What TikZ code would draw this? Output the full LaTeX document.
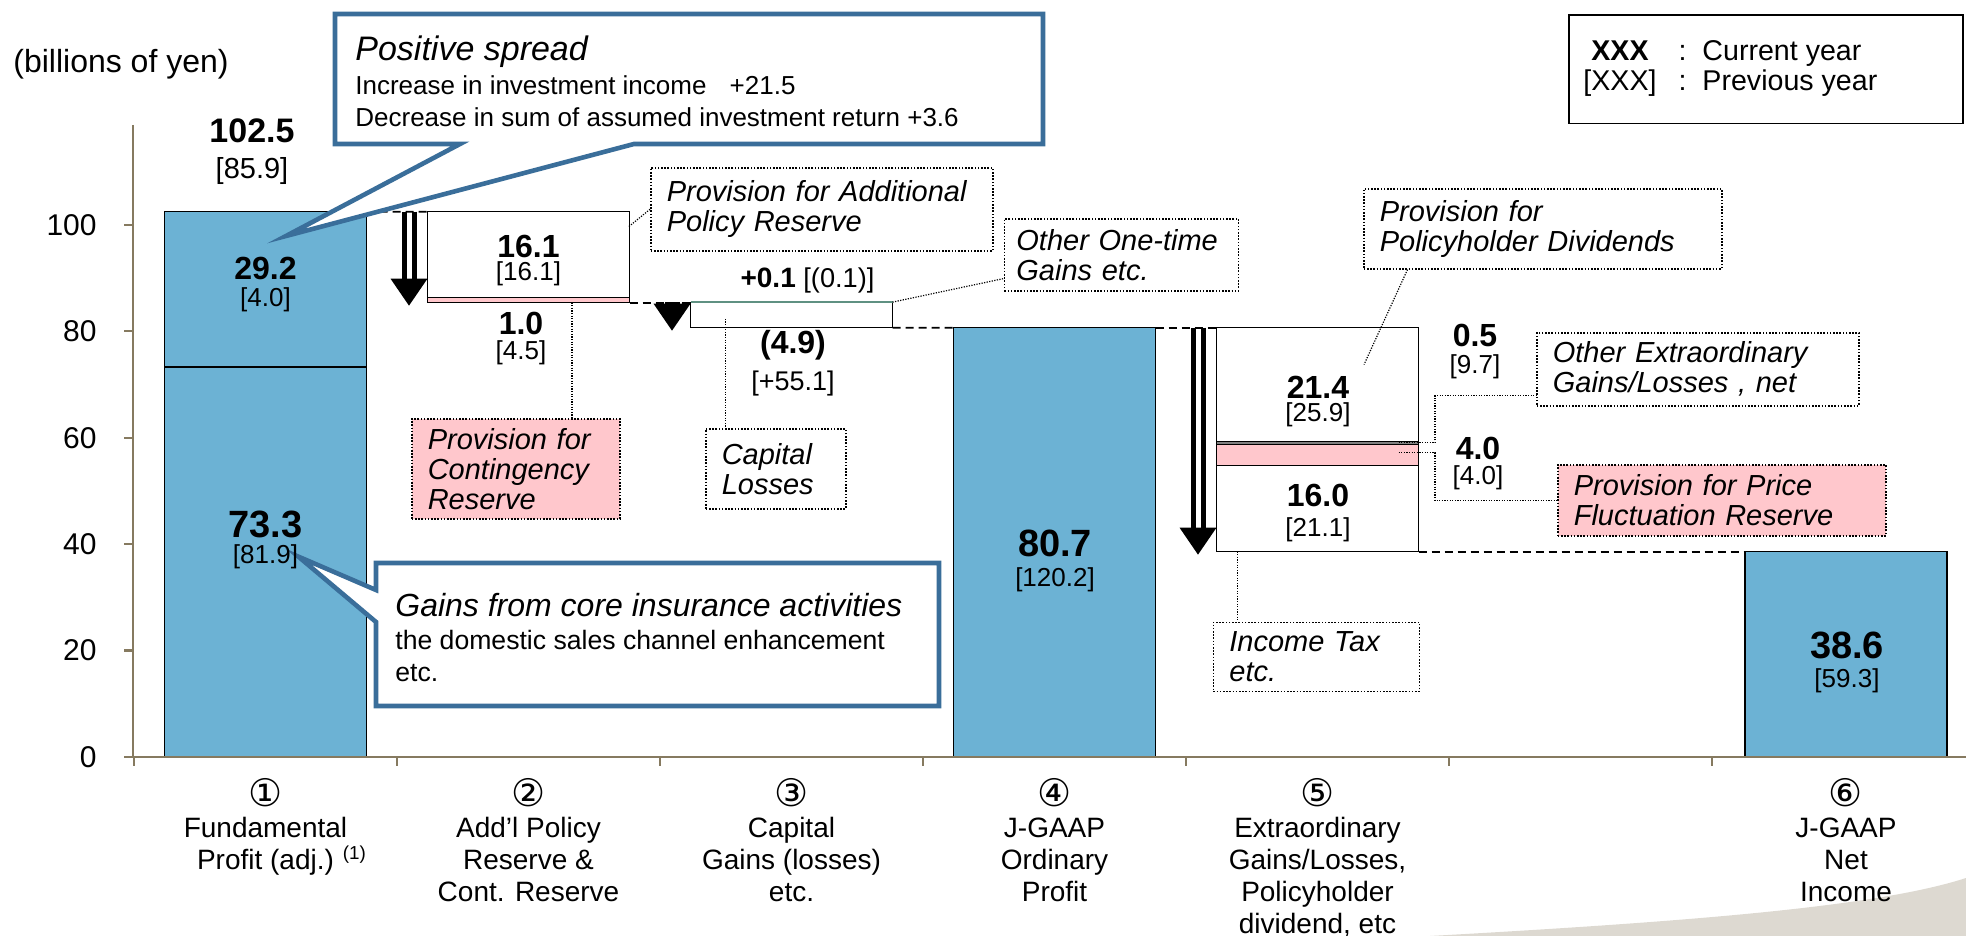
\documentclass[tikz,border=0pt]{standalone}
\usepackage{fontspec}
\setmainfont{Liberation Sans}
\newfontfamily\circfont{DejaVu Sans}
\usetikzlibrary{positioning}
\definecolor{barblue}{RGB}{108,178,212}
\definecolor{callblue}{RGB}{58,110,154}
\definecolor{notepink}{RGB}{255,199,204}
\definecolor{axisbrown}{RGB}{134,122,96}
\definecolor{swoosh}{RGB}{221,217,209}
\definecolor{gaingreen}{RGB}{95,145,130}
\tikzset{
	bar/.style = {
		draw = black,
		line width = 0.6pt,
		fill = barblue,
		minimum width = 101pt,
		inner sep = 0pt,
		outer sep = 0pt,
		anchor = south
	},
	seg/.style = {bar, fill = white},
	note/.style = {
		draw = black,
		line width = 0.8pt,
		dash pattern = on 0.8pt off 0.8pt,
		fill = white,
		anchor = north west,
		align = left,
		inner xsep = 8pt,
		font = \fontsize{14.5}{15}\selectfont\itshape
	},
	leader/.style = {line width = 0.6pt, dash pattern = on 0.6pt off 0.7pt},
	link/.style = {line width = 0.9pt, dash pattern = on 4pt off 2.5pt},
	callout/.style = {draw = callblue, line width = 2.3pt, fill = white},
	axisline/.style = {draw = axisbrown, line width = 1.1pt},
	val/.style = {font = \fontsize{16}{16}\selectfont\bfseries, inner sep = 0pt},
	bigval/.style = {font = \fontsize{19}{19}\selectfont\bfseries, inner sep = 0pt},
	prev/.style = {font = \fontsize{13}{13}\selectfont, inner sep = 0pt},
	catlabel/.style = {anchor = north, align = center, inner sep = 0pt, font = \fontsize{14}{16}\selectfont}
}
\newcommand\dropArrow[2]{%
	\draw[line width=2.5pt] ([xshift=-11.75pt]#1) -- ([xshift=-11.75pt,yshift=12pt]#2)
		([xshift=-6.75pt]#1) -- ([xshift=-6.75pt,yshift=12pt]#2);
	\fill ([xshift=-18.5pt,yshift=12pt]#2) -- ([yshift=12pt]#2) -- ([xshift=-9.25pt,yshift=-1.5pt]#2) -- cycle;
}
\newcommand\circnum[1]{{\circfont\fontsize{19}{19}\selectfont #1}}

\begin{document}
\begin{tikzpicture}[x=0.5pt, y=0.5pt]
    \useasboundingbox (0,0) rectangle (1966,936);
    \fill[swoosh] (1430,0) .. controls (1700,15) and (1880,30) .. (1966,58) -- (1966,0) -- cycle;

    % bars, heights in billions of yen
    \begin{scope}[shift={(0,179)}, y=2.66pt]
        \node[bar, minimum height={73.3*2.66pt}] (fpbot) at (265.5,0) {};
        \node[bar, minimum height={29.2*2.66pt}] (fptop) at (265.5,73.3) {};
        \node[seg, minimum height={16.1*2.66pt}] (addlbar) at (528.5,86.4) {};
        \node[seg, fill=notepink, minimum height={1.0*2.66pt}] (contbar) at (528.5,85.4) {};
        \node[seg, minimum height={4.8*2.66pt}] (lossbar) at (791.5,80.7) {};
        \node[bar, minimum height={80.7*2.66pt}] (ordbar) at (1054.5,0) {};
        \node[seg, minimum height={21.4*2.66pt}] (divbar) at (1317.5,59.3) {};
        \node[seg, fill=gray, minimum height={0.5*2.66pt}] (othbar) at (1317.5,58.8) {};
        \node[seg, fill=notepink, minimum height={4.0*2.66pt}] (pfrbar) at (1317.5,54.8) {};
        \node[seg, minimum height={16.2*2.66pt}] (taxbar) at (1317.5,38.6) {};
        \node[bar, minimum height={38.6*2.66pt}] (netbar) at (1846,0) {};
    \end{scope}
    \draw[gaingreen, line width=1.2pt] (lossbar.north west) -- (lossbar.north east);

    \draw[axisline] (133,811) -- (133,179) -- (1966,179);
    \foreach \v in {0,20,...,100} {
        \draw[axisline] (124,179+5.32*\v) -- (133,179+5.32*\v);
        \node[anchor=east, inner sep=0pt, font=\fontsize{15}{15}\selectfont] (tick\v) at (97,179+5.32*\v) {\v};
    }
    \foreach \k in {0,...,6}
        \draw[axisline] (134+263*\k,179) -- (134+263*\k,170);

    \draw[link] (fptop.north east) -- (addlbar.north west);
    \draw[link] (contbar.south east) -- (contbar.south east -| lossbar.west);
    \draw[link] (lossbar.south east) -- (ordbar.north west);
    \draw[link] (ordbar.north east) -- (divbar.north west);
    \draw[link] (taxbar.south east) -- (netbar.north west);

    \dropArrow{addlbar.north west}{contbar.south west}
    \dropArrow{lossbar.north west}{lossbar.south west}
    \dropArrow{divbar.north west}{taxbar.south west}

    \node[note, text width=155pt, minimum height=41.5pt] (addl) at (650,769) {Provision for Additional\\Policy Reserve};
    \node[note, fill=notepink, text width=88pt, minimum height=50pt] (cont) at (411,518) {Provision for\\Contingency\\Reserve};
    \node[note, text width=54pt, minimum height=40pt] (caploss) at (705,508) {Capital\\Losses};
    \node[note, inner xsep=6pt, text width=105pt, minimum height=36pt] (onetime) at (1003.6,718) {Other One-time\\Gains etc.};
    \node[note, text width=163pt, minimum height=40pt] (divid) at (1363,748) {Provision for\\Policyholder Dividends};
    \node[note, text width=145pt, minimum height=36.5pt] (otherx) at (1536,604) {Other Extraordinary\\Gains/Losses , net};
    \node[note, fill=notepink, text width=148pt, minimum height=35.5pt] (pricefl) at (1557,472) {Provision for Price\\Fluctuation Reserve};
    \node[note, text width=87pt, minimum height=34.5pt] (inctax) at (1212.6,314.3) {Income Tax\\etc.};

    \coordinate (c2) at ([xshift=21.75pt]contbar.south);
    \coordinate (c3) at ([xshift=-33pt,yshift=-2pt]lossbar.center);
    \coordinate (c5) at ([xshift=-40pt]taxbar.south);
    \draw[leader] (addl.west) -- ++(-22,-18);
    \draw[leader] (c2) -- (c2 |- cont.north);
    \draw[leader] (c3) -- (c3 |- caploss.north);
    \draw[leader] (lossbar.north east) -- ([yshift=6.5pt]onetime.south west);
    \draw[leader] ([xshift=22.25pt]divid.south west) -- ++(-43.5,-95);
    \draw[leader] ([xshift=-10pt]othbar.east) -- ++(36.5,0) |- ([yshift=5.5pt]otherx.south west);
    \draw[leader] ([xshift=-10pt,yshift=1pt]pfrbar.east) -- ++(36.5,0) |- ([yshift=18pt]pricefl.south west);
    \draw[leader] (c5) -- (c5 |- inctax.north);

    \draw[callout] (335,922) -- (1043,922) -- (1043,792) -- (634,792) -- (286,700) -- (460,792) -- (335,792) -- cycle;
    \node[anchor=north west, inner sep=0pt, align=left, font=\fontsize{13}{16.3}\selectfont] (spread) at (355,901)
        {{\fontsize{17}{18}\selectfont\itshape Positive spread}\\[0.8pt]
         Increase in investment income\hspace{8pt} +21.5\\
         Decrease in sum of assumed investment return +3.6};
    \draw[callout] (376,373) -- (939,373) -- (939,230) -- (376,230) -- (376,314) -- (298.5,379.3) -- (376,346) -- cycle;
    \node[anchor=north west, inner sep=0pt, align=left, font=\fontsize{13.3}{16.3}\selectfont] (gains) at (395,343)
        {{\fontsize{16}{17}\selectfont\itshape Gains from core insurance activities}\\[0pt]
         the domestic sales channel enhancement\\
         etc.};

    \node[val, font=\fontsize{17}{17}\selectfont\bfseries] (v1025) at (252,805) {102.5};
    \node[prev, font=\fontsize{14.5}{14.5}\selectfont, below=7pt of v1025] (p859) {[85.9]};
    \node[val] (v292) at (265.5,668) {29.2};
    \node[prev, below=4pt of v292] (p40a) {[4.0]};
    \node[bigval] (v733) at (265.5,412) {73.3};
    \node[prev, below=3pt of v733] (p819) {[81.9]};
    \node[val] (v161) at (528.5,690) {16.1};
    \node[prev, below=2pt of v161] (p161) {[16.1]};
    \node[val] (v10) at (521,613) {1.0};
    \node[prev, below=3pt of v10] (p45) {[4.5]};
    \node[inner sep=0pt, font=\fontsize{13.6}{13.6}\selectfont] (v01) at (807.5,656) {{\fontsize{14}{14}\selectfont\bfseries +0.1} [(0.1)]};
    \node[val] (v49) at (793,591) {(4.9)};
    \node[prev, font=\fontsize{13.5}{13.5}\selectfont, below=5pt of v49] (p551) {[+55.1]};
    \node[bigval] (v807) at (1055,393) {80.7};
    \node[prev, below=5pt of v807] (p1202) {[120.2]};
    \node[val] (v214) at (1318,549) {21.4};
    \node[prev, below=2pt of v214] (p259) {[25.9]};
    \node[val] (v160) at (1318,441) {16.0};
    \node[prev, below=5.5pt of v160] (p211) {[21.1]};
    \node[val] (v05) at (1475,601) {0.5};
    \node[prev, below=4pt of v05] (p97) {[9.7]};
    \node[val] (v40b) at (1478,488) {4.0};
    \node[prev, below=3pt of v40b] (p40b) {[4.0]};
    \node[bigval] (v386) at (1847,291) {38.6};
    \node[prev, below=4.5pt of v386] (p593) {[59.3]};

    \node[anchor=west, inner sep=0pt, font=\fontsize{16}{16}\selectfont] (unit) at (13,872) {(billions of yen)};
    \node[draw, line width=0.85pt, minimum width=197pt, minimum height=54.3pt, anchor=north west, inner sep=0pt] (legend) at (1568,922) {};
    \node[anchor=west, inner sep=0pt, font=\fontsize{14.3}{15}\selectfont] (legendtxt) at (1583,866)
        {\begin{tabular}{@{}c@{\hspace{11pt}}c@{\hspace{8pt}}l@{}}\textbf{XXX} & : & Current year\\ {[XXX]} & : & Previous year\end{tabular}};

    \node[catlabel] (cat1) at (265.5,158) {\circnum{①}\\[-0.5pt]Fundamental\\Profit (adj.)\rlap{\hspace{4.5pt}\raisebox{5pt}{\fontsize{9.4}{10}\selectfont(1)}}};
    \node[catlabel] (cat2) at (528.5,158) {\circnum{②}\\[-0.5pt]Add’l Policy\\Reserve \&\\Cont. Reserve};
    \node[catlabel] (cat3) at (791.5,158) {\circnum{③}\\[-0.5pt]Capital\\Gains (losses)\\etc.};
    \node[catlabel] (cat4) at (1054.5,158) {\circnum{④}\\[-0.5pt]J-GAAP\\Ordinary\\Profit};
    \node[catlabel] (cat5) at (1317.5,158) {\circnum{⑤}\\[-0.5pt]Extraordinary\\Gains/Losses,\\Policyholder\\dividend, etc};
    \node[catlabel] (cat6) at (1846,158) {\circnum{⑥}\\[-0.5pt]J-GAAP\\Net\\Income};
\end{tikzpicture}
\end{document}
